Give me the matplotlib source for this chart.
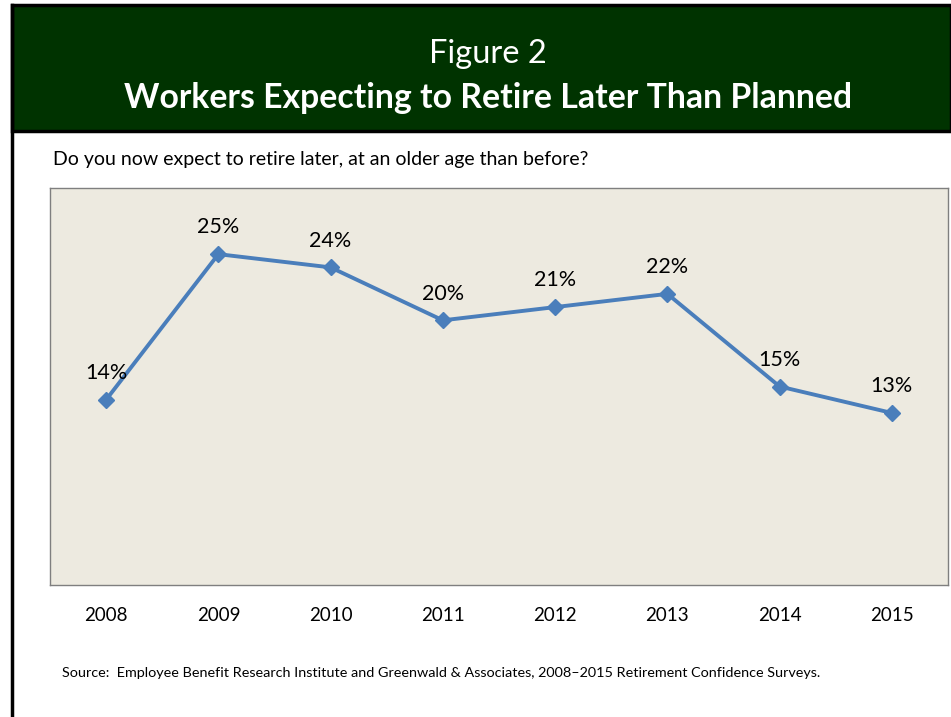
import matplotlib.pyplot as plt
from matplotlib.patches import Rectangle
from matplotlib.lines import Line2D

years = ['2008', '2009', '2010', '2011', '2012', '2013', '2014', '2015']
pct = [14, 25, 24, 20, 21, 22, 15, 13]

plt.rcParams['font.family'] = ['Lato', 'DejaVu Sans']

fig = plt.figure(figsize=(9.51, 7.17), dpi=100)
W, H = 951, 717

def fx(px):
    return px / W

def fy(py):
    return 1 - py / H

# header block
fig.patches.append(Rectangle((fx(12), fy(131)), fx(951 - 12), (131 - 5) / H,
                             transform=fig.transFigure, facecolor='#003300',
                             edgecolor='black', linewidth=2.5, zorder=0))
# left border
fig.lines.append(Line2D([fx(12), fx(12)], [fy(5), 0], transform=fig.transFigure,
                        color='black', linewidth=2.5))

fig.text(fx(488), fy(54), 'Figure 2', color='white', fontsize=23.5,
         ha='center', va='center')
fig.text(fx(488), fy(98), 'Workers Expecting to Retire Later Than Planned',
         color='white', fontsize=24.3, fontweight='bold', ha='center', va='center')
fig.text(fx(53), fy(160), 'Do you now expect to retire later, at an older age than before?',
         fontsize=14, ha='left', va='center')
fig.text(fx(62), fy(673),
         'Source:  Employee Benefit Research Institute and Greenwald & Associates, '
         '2008\u20132015 Retirement Confidence Surveys.',
         fontsize=10.4, ha='left', va='center')

ax = fig.add_axes([fx(50), fy(585), fx(948 - 50), (585 - 188) / H])
ax.set_facecolor('#EDEAE0')
x = range(len(years))
ax.plot(x, pct, color='#4A7EBB', linewidth=2.8, marker='D', markersize=8)
for i, v in enumerate(pct):
    ax.annotate(f'{v}%', (i, v), xytext=(0, 12), textcoords='offset points',
                ha='center', va='bottom', fontsize=15.5)
ax.set_xlim(-0.5, len(years) - 0.5)
ax.set_ylim(0, 30)
ax.set_yticks([])
ax.set_xticks(list(x))
ax.set_xticklabels(years, fontsize=13.5)
ax.tick_params(axis='x', length=0, pad=16)
for s in ax.spines.values():
    s.set_color('#7f7f7f')
    s.set_linewidth(1)

fig.savefig('out.png', dpi=100)
